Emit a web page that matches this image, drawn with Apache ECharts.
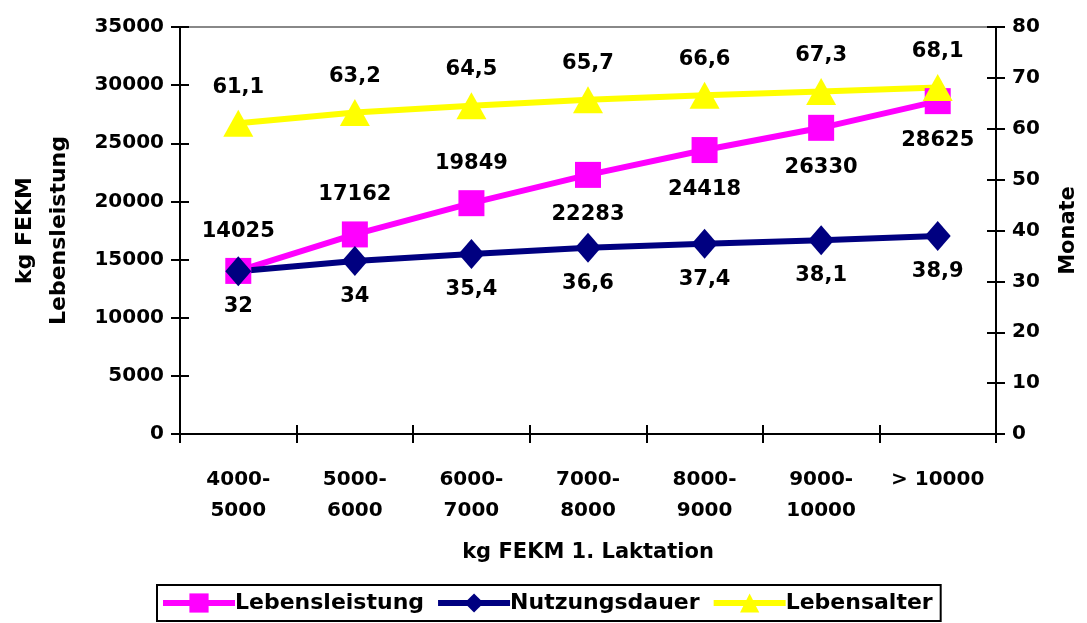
<!DOCTYPE html>
<html><head><meta charset="utf-8">
<script src="https://cdn.jsdelivr.net/npm/echarts@6/dist/echarts.min.js"></script>
<style>html,body{margin:0;padding:0;background:#fff}#c{width:1087px;height:623px}</style>
</head><body><div id="c"></div>
<script>
const categories = ['4000-\n5000','5000-\n6000','6000-\n7000','7000-\n8000','8000-\n9000','9000-\n10000','> 10000'];
const lebensleistung = [14025, 17162, 19849, 22283, 24418, 26330, 28625];
const nutzungsdauer = [32, 34, 35.4, 36.6, 37.4, 38.1, 38.9];
const lebensalter = [61.1, 63.2, 64.5, 65.7, 66.6, 67.3, 68.1];
const leistungLabelPos = ['top','top','top','bottom','bottom','bottom','bottom'];

const FONT = 'DejaVu Sans';
const comma = v => String(v).replace('.', ',');
const lbl = {fontFamily: FONT, fontWeight: 'bold', fontSize: 21, color: '#000'};
const tickStyle = {color: '#000', width: 2};

const chart = echarts.init(document.getElementById('c'), null, {renderer: 'canvas'});
chart.setOption({
  animation: false,
  backgroundColor: '#fff',
  grid: {left: 180, right: 85, top: 27, bottom: 189, containLabel: false},
  legend: {
    left: 157, bottom: 2,
    itemWidth: 72, itemHeight: 24, itemGap: 11,
    padding: [7, 8, 7, 3],
    borderColor: '#000', borderWidth: 2,
    lineStyle: {width: 6},
    textStyle: {fontFamily: FONT, fontWeight: 'bold', fontSize: 22, color: '#000', padding: [0,0,0,-5]},
    data: ['Lebensleistung', 'Nutzungsdauer', 'Lebensalter']
  },
  xAxis: [
    {type: 'category', data: categories, position: 'bottom',
     name: 'kg FEKM 1. Laktation', nameLocation: 'middle', nameGap: 108,
     nameTextStyle: {fontFamily: FONT, fontWeight: 'bold', fontSize: 21, color: '#000'},
     axisLine: {onZero: false, lineStyle: {color: '#000', width: 2}},
     axisTick: {show: true, length: 9, lineStyle: tickStyle},
     axisLabel: {fontFamily: FONT, fontWeight: 'bold', fontSize: 20, color: '#000', margin: 30, lineHeight: 31, interval: 0},
     splitLine: {show: false}},
    {type: 'category', data: categories, position: 'top',
     axisLine: {onZero: false, lineStyle: {color: '#888', width: 2}},
     axisTick: {show: false}, axisLabel: {show: false}, splitLine: {show: false}},
    {type: 'category', data: categories, position: 'bottom', offset: 0,
     axisLine: {show: true, onZero: false, lineStyle: {color: 'rgba(0,0,0,0)'}},
     axisTick: {show: true, inside: true, length: 9, lineStyle: tickStyle},
     axisLabel: {show: false}, splitLine: {show: false}}
  ],
  yAxis: [
    {type: 'value', position: 'left', min: 0, max: 35000, interval: 5000,
     name: 'kg FEKM\nLebensleistung', nameLocation: 'middle', nameGap: 104, nameRotate: 90,
     nameTextStyle: {fontFamily: FONT, fontWeight: 'bold', fontSize: 22, color: '#000', lineHeight: 34},
     axisLine: {show: true, onZero: false, lineStyle: {color: '#000', width: 2}},
     axisTick: {show: true, length: 9, lineStyle: tickStyle},
     axisLabel: {fontFamily: FONT, fontWeight: 'bold', fontSize: 20, color: '#000', margin: 16, formatter: v => String(v)},
     splitLine: {show: false}},
    {type: 'value', position: 'right', min: 0, max: 80, interval: 10,
     name: 'Monate', nameLocation: 'middle', nameGap: 62, nameRotate: 90,
     nameTextStyle: {fontFamily: FONT, fontWeight: 'bold', fontSize: 21, color: '#000'},
     axisLine: {show: true, onZero: false, lineStyle: {color: '#000', width: 2}},
     axisTick: {show: true, length: 9, lineStyle: tickStyle},
     axisLabel: {fontFamily: FONT, fontWeight: 'bold', fontSize: 20, color: '#000', margin: 16, formatter: v => String(v)},
     splitLine: {show: false}},
    {type: 'value', position: 'left', min: 0, max: 35000, interval: 5000, offset: 0,
     axisLine: {show: true, onZero: false, lineStyle: {color: 'rgba(0,0,0,0)'}},
     axisLabel: {show: false}, splitLine: {show: false},
     axisTick: {show: true, inside: true, length: 9, lineStyle: tickStyle}},
    {type: 'value', position: 'right', min: 0, max: 80, interval: 10, offset: 0,
     axisLine: {show: true, onZero: false, lineStyle: {color: 'rgba(0,0,0,0)'}},
     axisLabel: {show: false}, splitLine: {show: false},
     axisTick: {show: true, inside: true, length: 9, lineStyle: tickStyle}}
  ],
  series: [
    {name: 'Lebensleistung', type: 'line', yAxisIndex: 0,
     data: lebensleistung.map((v, i) => ({value: v, label: {position: leistungLabelPos[i]}})),
     symbol: 'rect', symbolSize: 26, showAllSymbol: true,
     lineStyle: {color: '#ff00ff', width: 6}, itemStyle: {color: '#ff00ff'},
     label: Object.assign({show: true, distance: 16}, lbl)},
    {name: 'Nutzungsdauer', type: 'line', yAxisIndex: 1,
     data: nutzungsdauer,
     symbol: 'diamond', symbolSize: [26, 30], showAllSymbol: true,
     lineStyle: {color: '#000080', width: 6}, itemStyle: {color: '#000080'},
     label: Object.assign({show: true, position: 'bottom', distance: 10, formatter: p => comma(p.value)}, lbl)},
    {name: 'Lebensalter', type: 'line', yAxisIndex: 1,
     data: lebensalter,
     symbol: 'triangle', symbolSize: [30, 27], showAllSymbol: true,
     lineStyle: {color: '#ffff00', width: 6}, itemStyle: {color: '#ffff00'},
     label: Object.assign({show: true, position: 'top', distance: 12, formatter: p => comma(p.value)}, lbl)}
  ]
});
</script></body></html>
